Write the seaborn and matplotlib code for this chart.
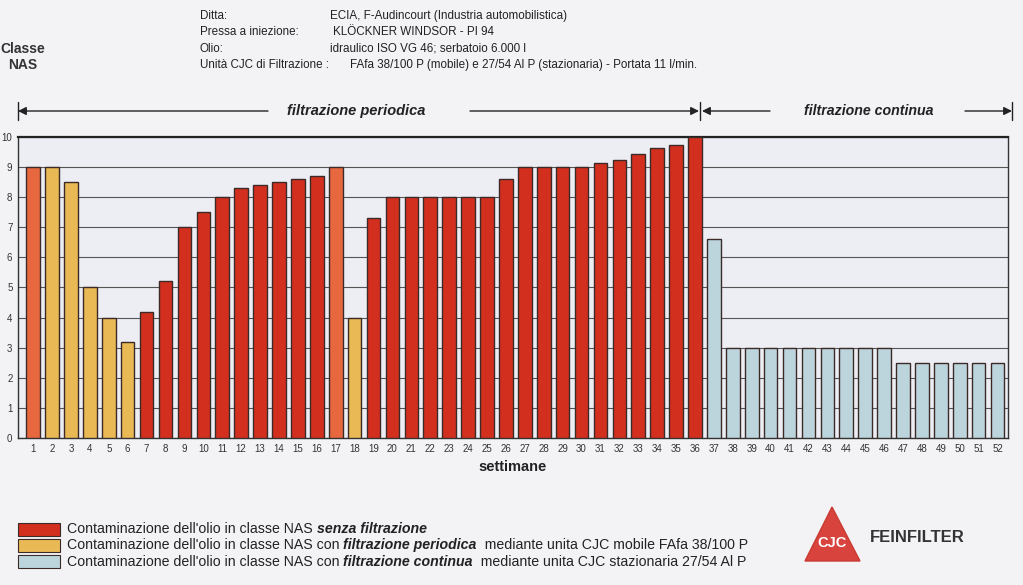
import numpy as np
import pandas as pd
import matplotlib.pyplot as plt
import seaborn as sns
from matplotlib.patches import Rectangle, Polygon

# Dati
settimane = list(range(1, 53))
classe_nas = [9, 9, 8.5, 5, 4, 3.2, 4.2, 5.2, 7, 7.5, 8, 8.3, 8.4, 8.5, 8.6, 8.7, 9, 4,
              7.3, 8, 8, 8, 8, 8, 8, 8.6, 9, 9, 9, 9, 9.15, 9.25, 9.45, 9.65, 9.75, 10,
              6.6, 3, 3, 3, 3, 3, 3, 3, 3, 3, 2.5, 2.5, 2.5, 2.5, 2.5, 2.5]
tipo = (["transizione"] + ["periodica"] * 5 + ["senza"] * 10 + ["transizione"] + ["periodica"]
        + ["senza"] * 18 + ["continua"] * 16)

colori = {"senza": "#d32f1e", "periodica": "#e8b955", "continua": "#bcd5dd", "transizione": "#e7683f"}

tabela = pd.DataFrame({"settimana": [str(s) for s in settimane], "nas": classe_nas, "tipo": tipo})

sns.set_style("white")
plt.rcParams['font.family'] = ['Liberation Sans', 'DejaVu Sans']

fig = plt.figure(figsize=(10.23, 5.85), dpi=100)
fig.patch.set_facecolor("#f3f3f6")
ax = fig.add_axes([0.0176, 0.2513, 0.9677, 0.5145])
ax.set_facecolor("#eceef4")

sns.barplot(data=tabela, x="settimana", y="nas", hue="tipo", palette=colori, dodge=False,
            width=0.72, saturation=1, edgecolor="#3b2a26", linewidth=1.0, legend=False,
            ax=ax, zorder=3)

ax.set_xlim(-0.8, 51.55)
ax.set_ylim(0, 10)
ax.set_yticks(range(0, 11))
ax.yaxis.grid(True, color="#555555", linewidth=0.8, zorder=0)
ax.set_axisbelow(True)
ax.tick_params(axis="both", length=0, labelsize=7, colors="#333333", pad=4)
ax.set_xlabel("settimane", fontsize=10.5, fontweight="bold", color="#222222", labelpad=5)
ax.set_ylabel("")
for lato in ["left", "bottom", "right"]:
    ax.spines[lato].set_color("#333333")
    ax.spines[lato].set_linewidth(1.0)
ax.spines["top"].set_color("#222222")
ax.spines["top"].set_linewidth(1.6)

# Intestazione
fig.text(0.022, 1 - 57 / 585, "Classe\nNAS", ha="center", va="center", fontsize=10,
         fontweight="bold", color="#333333", linespacing=1.25)
etichette = ["Ditta:", "Pressa a iniezione:", "Olio:", "Unità CJC di Filtrazione :"]
valori = ["ECIA, F-Audincourt (Industria automobilistica)", "KLÖCKNER WINDSOR - PI 94",
          "idraulico ISO VG 46; serbatoio 6.000 l",
          "FAfa 38/100 P (mobile) e 27/54 Al P (stazionaria) - Portata 11 l/min."]
x_valori = [0.3226, 0.3255, 0.3226, 0.342]
for i, (e, v) in enumerate(zip(etichette, valori)):
    y = 1 - (16 + 16.3 * i) / 585
    fig.text(0.1955, y, e, fontsize=8.4, va="center", color="#222222")
    fig.text(x_valori[i], y, v, fontsize=8.4, va="center", color="#222222")

# Frecce periodi
y_fr = 1 - 111 / 585
freccia = dict(arrowstyle="-|>", color="#222222", lw=1.0, mutation_scale=12, shrinkA=0, shrinkB=0)
def linea(x0, x1):
    fig.add_artist(plt.Annotation("", xy=(x1 / 1023, y_fr), xytext=(x0 / 1023, y_fr),
                                  xycoords="figure fraction", arrowprops=dict(freccia)))
linea(268, 18)
linea(470, 699)
linea(770, 702)
linea(965, 1012)
for xv in [18, 700, 1012]:
    fig.add_artist(plt.Line2D([xv / 1023] * 2, [y_fr - 9 / 585, y_fr + 9 / 585],
                              color="#222222", lw=1.0))
fig.text(356 / 1023, y_fr, "filtrazione periodica", ha="center", va="center", fontsize=10.5,
         fontweight="bold", fontstyle="italic", color="#222222")
fig.text(869 / 1023, y_fr, "filtrazione continua", ha="center", va="center", fontsize=10.2,
         fontweight="bold", fontstyle="italic", color="#222222")

# Legenda
ax_leg = fig.add_axes([0, 0, 1, 1], facecolor="none")
ax_leg.set_axis_off()
ax_leg.set_xlim(0, 1)
ax_leg.set_ylim(0, 1)
righe = [
    ("senza", [("Contaminazione dell'olio in classe NAS ", "normal"), ("senza filtrazione", "bold")]),
    ("periodica", [("Contaminazione dell'olio in classe NAS con ", "normal"), ("filtrazione periodica", "bold"),
                   ("  mediante unita CJC mobile FAfa 38/100 P", "normal")]),
    ("continua", [("Contaminazione dell'olio in classe NAS con ", "normal"), ("filtrazione continua", "bold"),
                  ("  mediante unita CJC stazionaria 27/54 Al P", "normal")]),
]
for i, (chiave, pezzi) in enumerate(righe):
    yc = 1 - (529 + 16.3 * i) / 585
    ax_leg.add_patch(Rectangle((18 / 1023, yc - 6.5 / 585), 42 / 1023, 13 / 585,
                               facecolor=colori[chiave], edgecolor="#3b2a26", lw=0.8))
    prec = None
    for testo, peso in pezzi:
        stile = "italic" if peso == "bold" else "normal"
        if prec is None:
            prec = ax_leg.annotate(testo, xy=(67 / 1023, yc), va="center", ha="left",
                                   fontsize=10.2, fontweight=peso, fontstyle=stile, color="#222222")
        else:
            prec = ax_leg.annotate(testo, xy=(1, 0.5), xycoords=prec, va="center", ha="left",
                                   fontsize=10.2, fontweight=peso, fontstyle=stile, color="#222222")

# Logo
ax_leg.add_patch(Polygon([(832 / 1023, 1 - 507 / 585), (805 / 1023, 1 - 561 / 585),
                          (860 / 1023, 1 - 561 / 585)], closed=True, facecolor="#d8443d",
                         edgecolor="#c93a33", lw=1))
ax_leg.text(832.5 / 1023, 1 - 543 / 585, "CJC", ha="center", va="center", fontsize=10.5,
            fontweight="bold", color="white")
ax_leg.text(870 / 1023, 1 - 537 / 585, "FEINFILTER", ha="left", va="center", fontsize=12,
            fontweight="bold", color="#333333")

plt.savefig("out.png", dpi=100, facecolor=fig.get_facecolor())
